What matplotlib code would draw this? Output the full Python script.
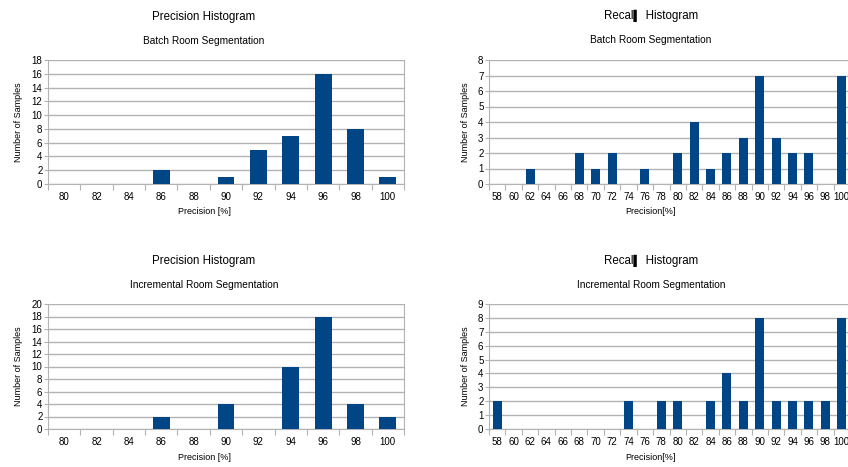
import matplotlib
matplotlib.use("Agg")
import matplotlib.pyplot as plt
from matplotlib.ticker import FixedLocator, NullFormatter, FixedFormatter

plt.rcParams['font.family'] = ['Liberation Sans', 'DejaVu Sans']

# ---- data ----
prec_bins = ["80", "82", "84", "86", "88", "90", "92", "94", "96", "98", "100"]
prec_batch = [0, 0, 0, 2, 0, 1, 5, 7, 16, 8, 1]
prec_incr = [0, 0, 0, 2, 0, 4, 0, 10, 18, 4, 2]

rec_bins = ["58", "60", "62", "64", "66", "68", "70", "72", "74", "76", "78",
            "80", "82", "84", "86", "88", "90", "92", "94", "96", "98", "100"]
rec_batch = [0, 0, 1, 0, 0, 2, 1, 2, 0, 1, 0, 2, 4, 1, 2, 3, 7, 3, 2, 2, 0, 7]
rec_incr = [2, 0, 0, 0, 0, 0, 0, 0, 2, 0, 2, 2, 0, 2, 4, 2, 8, 2, 2, 2, 2, 8]

prec_title = "Precision Histogram"
rec_title = "Recal\u258d Histogram"
sub_batch = "Batch Room Segmentation"
sub_incr = "Incremental Room Segmentation"

W, H = 848, 467
fig = plt.figure(figsize=(W / 100, H / 100), dpi=100)

BAR = "#004586"
GRID = "#b3b3b3"


def panel(box, bins, vals, ymax, ystep, title, subtitle, xlabel, bw, title_y, sub_y, xl_y, cx):
    l, t, r, b = box
    ax = fig.add_axes([l / W, 1 - b / H, (r - l) / W, (b - t) / H])
    n = len(bins)
    xs = list(range(n))
    ax.bar(xs, vals, width=bw, color=BAR, zorder=3)
    ax.set_xlim(-0.5, n - 0.5)
    ax.set_ylim(0, ymax)
    ax.yaxis.set_major_locator(FixedLocator(list(range(0, ymax + 1, ystep))))
    ax.tick_params(axis='y', labelsize=7, length=3, color=GRID, pad=1, labelcolor="#000000")
    ax.xaxis.set_major_locator(FixedLocator([i - 0.5 for i in range(n + 1)]))
    ax.xaxis.set_major_formatter(NullFormatter())
    ax.xaxis.set_minor_locator(FixedLocator(xs))
    ax.xaxis.set_minor_formatter(FixedFormatter(bins))
    ax.tick_params(axis='x', which='major', length=4, color=GRID)
    ax.tick_params(axis='x', which='minor', length=0, labelsize=7, pad=6)
    ax.grid(axis='y', color=GRID, linewidth=1, zorder=0)
    for s in ['left', 'bottom', 'right']:
        ax.spines[s].set_color(GRID)
    ax.spines['top'].set_visible(False)
    ax.set_ylabel("Number of Samples", fontsize=6.5, labelpad=6)
    fig.text(cx / W, 1 - xl_y / H, xlabel, fontsize=6.5, ha='center', va='center')
    fig.text(cx / W, 1 - title_y / H, title, fontsize=8.3, ha='center', va='center')
    fig.text(cx / W, 1 - sub_y / H, subtitle, fontsize=7.3, ha='center', va='center')
    return ax


panel((48, 60, 404, 184), prec_bins, prec_batch, 18, 2, prec_title, sub_batch,
      "Precision [%]", 0.52, 17, 41, 212, 204)
panel((489, 60, 850, 184), rec_bins, rec_batch, 8, 1, rec_title, sub_batch,
      "Precision[%]", 0.55, 16, 40, 212, 651)
panel((48, 304, 404, 429), prec_bins, prec_incr, 20, 2, prec_title, sub_incr,
      "Precision [%]", 0.52, 261, 285, 457, 204)
panel((489, 304, 850, 429), rec_bins, rec_incr, 9, 1, rec_title, sub_incr,
      "Precision[%]", 0.55, 261, 285, 457, 651)

fig.savefig("out.png", dpi=100)
